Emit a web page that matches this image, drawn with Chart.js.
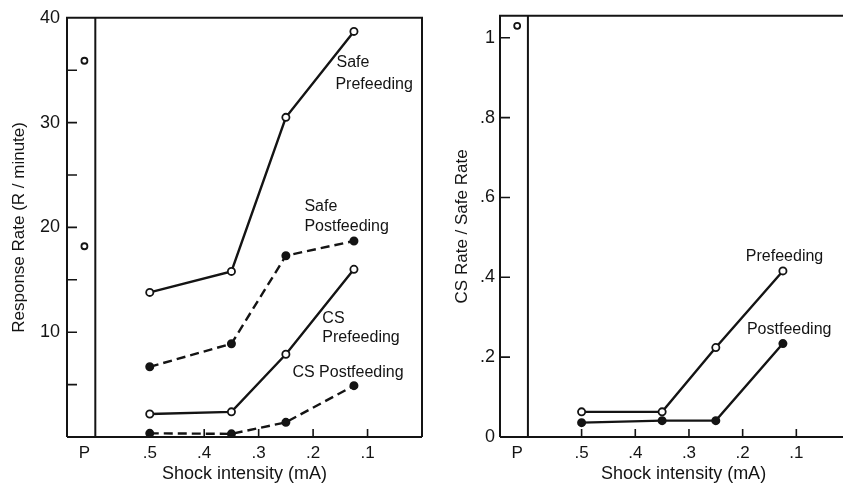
<!DOCTYPE html>
<html>
<head>
<meta charset="utf-8">
<script src="https://cdn.jsdelivr.net/npm/chart.js"></script>
<style>
  body { margin: 0; background: #fff; overflow: hidden; width: 843px; height: 490px; position: relative; }
  canvas { position: absolute; top: 0; }
</style>
</head>
<body>
<canvas id="rateChart" width="430" height="490" style="left:0"></canvas>
<canvas id="ratioChart" width="443" height="490" style="left:430px"></canvas>
<script>
// shock intensity (mA) of each session, and "P" baseline position
const shock = [0.5, 0.35, 0.25, 0.125];
const pValue = 0.62;
const xTickValues = [0.62, 0.5, 0.4, 0.3, 0.2, 0.1];
const xTickLabels = ['P', '.5', '.4', '.3', '.2', '.1'];

// left panel: response rate (R/minute)
const safePre = [13.8, 15.8, 30.5, 38.7];
const safePost = [6.7, 8.9, 17.3, 18.7];
const csPre = [2.2, 2.4, 7.9, 16.0];
const csPost = [0.35, 0.3, 1.4, 4.9];
const pRates = [35.9, 18.2];
const rateTicks = [5, 10, 15, 20, 25, 30, 35, 40];

// right panel: CS rate / safe rate
const ratioPre = [0.063, 0.063, 0.224, 0.416];
const ratioPost = [0.036, 0.041, 0.041, 0.234];
const pRatio = [1.03];
const ratioTicks = [0, 0.2, 0.4, 0.6, 0.8, 1];

const FONT = 'Liberation Sans, Arial, sans-serif';
const INK = '#141414';

function pts(ys) { return ys.map((y, i) => ({ x: shock[i], y: y })); }

function series(ys, filled, dashed) {
  return {
    data: pts(ys),
    borderColor: INK,
    borderWidth: 2.4,
    borderDash: dashed ? [9, 5] : [],
    pointRadius: 3.6,
    pointBorderWidth: 1.8,
    pointBorderColor: INK,
    pointBackgroundColor: filled ? INK : '#fff',
    tension: 0
  };
}

function pSeries(ys) {
  return {
    data: ys.map(y => ({ x: pValue, y: y })),
    showLine: false,
    pointRadius: 3,
    pointBorderWidth: 1.8,
    pointBorderColor: INK,
    pointBackgroundColor: '#fff'
  };
}

// frame, separator after P, inward tick marks, curve labels
function framePlugin(closedRight, labels) {
  return {
    id: 'frame',
    afterDraw(chart) {
      const { ctx, chartArea: a, scales: { x, y } } = chart;
      ctx.save();
      ctx.strokeStyle = INK;
      ctx.lineWidth = 2;
      ctx.beginPath();
      ctx.moveTo(a.left, a.bottom); ctx.lineTo(a.left, a.top); ctx.lineTo(a.right, a.top);
      if (closedRight) ctx.lineTo(a.right, a.bottom);
      ctx.moveTo(a.left, a.bottom); ctx.lineTo(a.right, a.bottom);
      const sx = x.getPixelForValue(0.6);
      ctx.moveTo(sx, a.top); ctx.lineTo(sx, a.bottom);
      ctx.stroke();
      ctx.lineWidth = 1.6;
      ctx.beginPath();
      y.ticks.forEach(t => {
        if (t.value <= y.min || t.value >= y.max) return;
        const py = y.getPixelForValue(t.value);
        ctx.moveTo(a.left, py); ctx.lineTo(a.left + 10, py);
      });
      x.ticks.forEach(t => {
        if (t.value === pValue) return;
        const px = x.getPixelForValue(t.value);
        ctx.moveTo(px, a.bottom); ctx.lineTo(px, a.bottom - 8);
      });
      ctx.stroke();
      ctx.fillStyle = INK;
      ctx.font = '16px ' + FONT;
      ctx.textAlign = 'left';
      ctx.textBaseline = 'middle';
      labels.forEach(l => ctx.fillText(l.text, x.getPixelForValue(l.x), y.getPixelForValue(l.y)));
      ctx.restore();
    }
  };
}

function xScale(min, max) {
  return {
    type: 'linear', reverse: true, min: min, max: max,
    afterBuildTicks: s => { s.ticks = xTickValues.map(v => ({ value: v })); },
    afterFit: s => { s.height = 53; },
    grid: { display: false, drawTicks: false },
    border: { display: false },
    ticks: { autoSkip: false, maxRotation: 0, padding: 6, color: INK, font: { family: FONT, size: 17 },
             callback: (v, i) => xTickLabels[i] },
    title: { display: true, text: 'Shock intensity (mA)', color: INK, font: { family: FONT, size: 18 },
             padding: { top: 0, bottom: 5 } }
  };
}

new Chart(document.getElementById('rateChart'), {
  type: 'line',
  data: {
    datasets: [
      series(safePre, false, false),
      series(safePost, true, true),
      series(csPre, false, false),
      series(csPost, true, true),
      pSeries(pRates)
    ]
  },
  options: {
    responsive: false, animation: false,
    layout: { padding: { top: 15, right: 8, left: 0, bottom: 0 } },
    plugins: { legend: { display: false }, tooltip: { enabled: false } },
    scales: {
      x: xScale(0, 0.652),
      y: {
        min: 0, max: 40,
        afterBuildTicks: s => { s.ticks = rateTicks.map(v => ({ value: v })); },
        afterFit: s => { s.width = 67; },
        grid: { display: false, drawTicks: false },
        border: { display: false },
        ticks: { padding: 7, color: INK, font: { family: FONT, size: 18 },
                 callback: v => (v % 10 === 0 ? v : '') },
        title: { display: true, text: 'Response Rate (R / minute)', color: INK,
                 font: { family: FONT, size: 17 }, padding: { top: 9, bottom: 0 } }
      }
    }
  },
  plugins: [framePlugin(true, [
    { text: 'Safe', x: 0.157, y: 35.7 },
    { text: 'Prefeeding', x: 0.159, y: 33.6 },
    { text: 'Safe', x: 0.216, y: 22.0 },
    { text: 'Postfeeding', x: 0.216, y: 20.1 },
    { text: 'CS', x: 0.183, y: 11.3 },
    { text: 'Prefeeding', x: 0.183, y: 9.5 },
    { text: 'CS Postfeeding', x: 0.238, y: 6.1 }
  ])]
});

new Chart(document.getElementById('ratioChart'), {
  type: 'line',
  data: {
    datasets: [
      series(ratioPre, false, false),
      series(ratioPost, true, false),
      pSeries(pRatio)
    ]
  },
  options: {
    responsive: false, animation: false,
    layout: { padding: { top: 15, right: 0, left: 0, bottom: 0 } },
    plugins: { legend: { display: false }, tooltip: { enabled: false } },
    scales: {
      x: xScale(-0.032, 0.652),
      y: {
        min: 0, max: 1.055,
        afterBuildTicks: s => { s.ticks = ratioTicks.map(v => ({ value: v })); },
        afterFit: s => { s.width = 70; },
        grid: { display: false, drawTicks: false },
        border: { display: false },
        ticks: { padding: 5, color: INK, font: { family: FONT, size: 18 },
                 callback: v => (v === 0 || v === 1 ? String(v) : '.' + Math.round(v * 10)) },
        title: { display: true, text: 'CS Rate / Safe Rate', color: INK,
                 font: { family: FONT, size: 17 }, padding: { top: 22, bottom: 0 } }
      }
    }
  },
  plugins: [framePlugin(false, [
    { text: 'Prefeeding', x: 0.194, y: 0.4525 },
    { text: 'Postfeeding', x: 0.192, y: 0.27 }
  ])]
});
</script>
</body>
</html>
